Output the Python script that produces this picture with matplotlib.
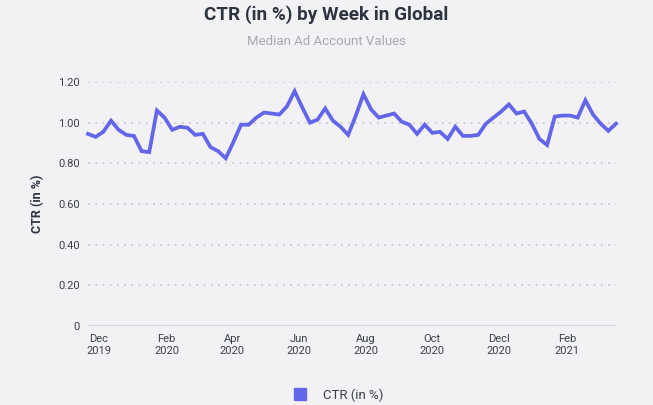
import matplotlib
matplotlib.use("Agg")
import matplotlib.pyplot as plt
from matplotlib.lines import Line2D
import pandas as pd

plt.rcParams['font.family'] = ['Roboto', 'DejaVu Sans']

# weekly median CTR values
start_week = "2019-11-21"
ctr = [0.945, 0.93, 0.955, 1.01, 0.965, 0.94, 0.935, 0.86, 0.855, 1.06,
       1.025, 0.965, 0.98, 0.975, 0.94, 0.945, 0.88, 0.86, 0.825, 0.905,
       0.99, 0.99, 1.025, 1.05, 1.045, 1.04, 1.08, 1.155, 1.075, 1.00,
       1.015, 1.07, 1.01, 0.98, 0.94, 1.035, 1.14, 1.065, 1.025, 1.035,
       1.045, 1.005, 0.99, 0.945, 0.99, 0.95, 0.955, 0.92, 0.98, 0.935,
       0.935, 0.94, 0.995, 1.025, 1.055, 1.09, 1.045, 1.055, 0.995, 0.92,
       0.89, 1.03, 1.035, 1.035, 1.025, 1.11, 1.04, 0.995, 0.96, 0.995]
weeks = pd.date_range(start_week, periods=len(ctr), freq="7D")

tick_dates = pd.to_datetime(["2019-12-01", "2020-02-01", "2020-04-01", "2020-06-01",
                             "2020-08-01", "2020-10-01", "2020-12-01", "2021-02-01"])
tick_labels = ["Dec\n2019", "Feb\n2020", "Apr\n2020", "Jun\n2020",
               "Aug\n2020", "Oct\n2020", "Decl\n2020", "Feb\n2021"]
y_ticks = [0, 0.2, 0.4, 0.6, 0.8, 1.0, 1.2]
y_labels = ["0", "0.20", "0.40", "0.60", "0.80", "1.00", "1.20"]

bg = "#f2f2f5"
line_color = "#6466e9"

fig = plt.figure(figsize=(6.53, 4.05), dpi=100, facecolor=bg)
ax = fig.add_axes([0.1348, 0.195, 0.8085, 0.6025], facecolor=bg)

ax.plot(weeks, ctr, color=line_color, lw=2.7, solid_joinstyle="miter", clip_on=False)

ax.set_xlim(weeks[0], weeks[-1])
ax.set_ylim(0, 1.2)
ax.set_yticks(y_ticks)
ax.set_yticklabels(y_labels)
ax.set_xticks(tick_dates)
ax.set_xticklabels(tick_labels)
ax.tick_params(axis="both", length=0, labelsize=8, colors="#3a3f4b")
ax.tick_params(axis="x", pad=6)
ax.tick_params(axis="y", pad=6)

for s in ax.spines.values():
    s.set_visible(False)
for v in y_ticks[1:]:
    ax.axhline(v, color="#c9cbd1", lw=1.3, ls=(0, (1, 3)), zorder=0)
ax.axhline(0, color="#d5d7dc", lw=1.5, zorder=0)

ax.set_ylabel("CTR (in %)", fontsize=9, fontweight="bold", color="#2d3340", labelpad=10)

fig.text(0.5, 0.964, "CTR (in %) by Week in Global", ha="center", va="center",
         fontsize=13.6, fontweight="bold", color="#2d3340")
fig.text(0.5, 0.898, "Median Ad Account Values", ha="center", va="center",
         fontsize=9.5, color="#a5a9b3")

handle = Line2D([], [], marker="s", color=line_color, ls="none", markersize=8)
fig.legend([handle], ["CTR (in %)"], loc="center", bbox_to_anchor=(0.513, 0.025),
           frameon=False, fontsize=9.5, labelcolor="#3a3f4b", handletextpad=0.8)

fig.savefig("out.png", dpi=100, facecolor=bg)
